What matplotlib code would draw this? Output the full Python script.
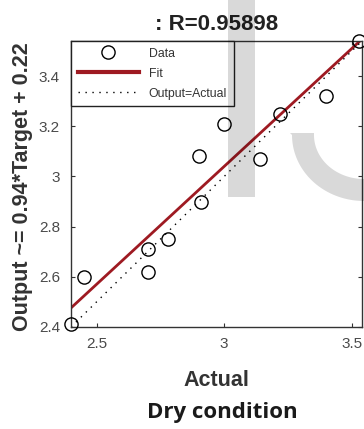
import numpy as np
import matplotlib
matplotlib.use("Agg")
import matplotlib.pyplot as plt
from matplotlib.patches import Polygon, Rectangle
from matplotlib.ticker import FixedLocator, FuncFormatter

# ---- data ----
actual = [2.40, 2.45, 2.70, 2.70, 2.78, 2.90, 2.91, 3.00, 3.14, 3.22, 3.40, 3.53]
output = [2.41, 2.60, 2.71, 2.62, 2.75, 3.08, 2.90, 3.21, 3.07, 3.25, 3.32, 3.54]
fit_slope = 0.94
fit_intercept = 0.22
r_value = 0.95898
xticks = [2.5, 3.0, 3.5]
yticks = [2.4, 2.6, 2.8, 3.0, 3.2, 3.4]
title_text = ": R=0.95898"
xlabel_text = "Actual"
ylabel_text = "Output ~= 0.94*Target + 0.22"
caption_text = "Dry condition"

W, H = 364, 429
fig = plt.figure(figsize=(W / 100, H / 100), dpi=100)
fig.patch.set_facecolor("white")

ax_l, ax_r, ax_t, ax_b = 71, 362, 41, 327
ax = fig.add_axes([ax_l / W, 1 - ax_b / H, (ax_r - ax_l) / W, (ax_b - ax_t) / H])
ax.set_facecolor("none")

lo = min(min(actual), min(output))
hi = max(max(actual), max(output))
ax.set_xlim(lo, hi)
ax.set_ylim(lo, hi)

xs = np.array([lo, hi])
ax.plot(xs, fit_slope * xs + fit_intercept, color="#9e1a22", lw=2.0, label="Fit", zorder=2)
ax.plot(xs, xs, color="black", lw=1.0, linestyle=(0, (1, 4)), label="Output=Actual", zorder=2)
ax.plot(actual, output, linestyle="none", marker="o", markersize=9.5, markerfacecolor="none",
        markeredgecolor="black", markeredgewidth=1.0, label="Data", zorder=3, clip_on=False)

fmt = FuncFormatter(lambda v, p: f"{v:g}")
ax.xaxis.set_major_locator(FixedLocator(xticks))
ax.yaxis.set_major_locator(FixedLocator(yticks))
ax.xaxis.set_major_formatter(fmt)
ax.yaxis.set_major_formatter(fmt)
ax.tick_params(direction="in", length=3, width=0.8, colors="#333333", labelcolor="#4a4a4a",
               labelsize=11, top=True, right=True)
ax.tick_params(axis="y", pad=8)
ax.tick_params(axis="x", pad=7)
for s in ax.spines.values():
    s.set_color("#333333")
    s.set_linewidth(1.0)

ax.set_xlabel(xlabel_text, fontsize=15.5, fontweight="bold", family="Liberation Sans", color="#333333")
ax.xaxis.set_label_coords(0.5, -0.152)
ax.set_ylabel(ylabel_text, fontsize=15.5, fontweight="bold", family="Liberation Sans", color="#333333")
ax.yaxis.set_label_coords(-0.13, 0.49)
for lab in ax.get_xticklabels() + ax.get_yticklabels():
    lab.set_family("Liberation Sans")

handles, labels = ax.get_legend_handles_labels()
order = [2, 0, 1]
leg = ax.legend([handles[i] for i in order], [labels[i] for i in order], loc="upper left",
                borderaxespad=0.0, handlelength=5.0, handletextpad=0.8,
                labelspacing=0.65, borderpad=0.55, fancybox=False, framealpha=1,
                edgecolor="#222222", prop={"family": "Liberation Sans", "size": 8.8})
leg.get_frame().set_linewidth(1.0)
for t in leg.get_texts():
    t.set_color("#333333")
leg.get_lines()[1].set_linewidth(3.0)

fig.text(216.5 / W, 1 - 30 / H, title_text, ha="center", va="baseline", fontsize=16,
         fontweight="bold", family="Liberation Sans", color="#222222")
fig.text(222 / W, 1 - 418 / H, caption_text, ha="center", va="baseline", fontsize=16,
         fontweight="bold", family="Open Sans", color="#1a1a1a")

# watermark (semi-transparent overlay)
wm_alpha = 0.15
fig.patches.append(Rectangle((228 / W, 1 - 197 / H), 27 / W, 197 / H, transform=fig.transFigure,
                             facecolor="black", alpha=wm_alpha, edgecolor="none", zorder=10))
cx, cy = 364, 135
ang = np.linspace(np.pi, 1.5 * np.pi, 40)
outer = [(cx + 72 * np.cos(a), cy - 66 * np.sin(a)) for a in ang]
inner = [(cx + 50 * np.cos(a), cy - 44 * np.sin(a)) for a in ang[::-1]]
pts = [(290, 133)] + outer + inner + [(314, 133)]
pts = [(px / W, 1 - py / H) for px, py in pts]
fig.patches.append(Polygon(pts, closed=True, transform=fig.transFigure, facecolor="black",
                           alpha=wm_alpha, edgecolor="none", zorder=10))

fig.savefig("out.png", dpi=100)
